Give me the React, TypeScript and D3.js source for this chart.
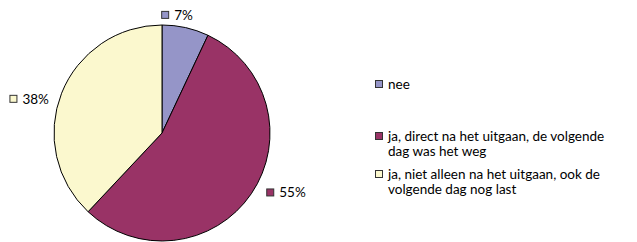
import React from "react";
import * as d3 from "d3";

const categories = ["nee", "ja, direct na het uitgaan, de volgende dag was het weg", "ja, niet alleen na het uitgaan, ook de volgende dag nog last"];
const legendLines = [["nee"], ["ja, direct na het uitgaan, de volgende", "dag was het weg"], ["ja, niet alleen na het uitgaan, ook de", "volgende dag nog last"]];
const values = [7, 55, 38];
const labels = ["7%", "55%", "38%"];
const colors = ["#9595C8", "#993366", "#FBF8CE"];

const W = 637, H = 242;
const cx = 162, cy = 133, R = 108;
const font = "Lato, 'Open Sans', sans-serif";
const fs = 13.5;

// label offsets relative to arc-based anchor (box left x, text baseline y)
const labelOffsets = [
  { dx: -27, dy: 4 },
  { dx: 5, dy: -3 },
  { dx: -41, dy: 15 },
];

export default function App() {
  const pie = d3.pie<number>().sort(null).value((d) => d);
  const arcs = pie(values);
  const arc = d3.arc<d3.PieArcDatum<number>>().innerRadius(0).outerRadius(R);
  const labelArc = d3.arc<d3.PieArcDatum<number>>().innerRadius(R + 12).outerRadius(R + 12);

  const legendY = [89, 141, 179];
  const lineH = 14.5;

  return (
    <svg width={W} height={H} style={{ position: "absolute", left: 0, top: 0 }}>
      <rect width={W} height={H} fill="#fff" />
      <g transform={`translate(${cx},${cy})`}>
        {arcs.map((a, i) => (
          <path key={i} d={arc(a) || ""} fill={colors[i]} stroke="#000" strokeWidth={1} />
        ))}
      </g>
      {arcs.map((a, i) => {
        const [lx, ly] = labelArc.centroid(a);
        const x = cx + lx + labelOffsets[i].dx;
        const y = cy + ly + labelOffsets[i].dy;
        return (
          <g key={i}>
            <rect x={x + 0.5} y={y - 8.5} width={7} height={7} fill={colors[i]} stroke="#333" strokeWidth={1} />
            <text x={x + 13} y={y} fontFamily={font} fontSize={fs} fill="#000">{labels[i]}</text>
          </g>
        );
      })}
      {categories.map((c, i) => (
        <g key={c}>
          <rect x={375.5} y={legendY[i] - 8.5} width={7} height={7} fill={colors[i]} stroke="#333" strokeWidth={1} />
          <text fontFamily={font} fontSize={fs} fill="#000">
            {legendLines[i].map((l, j) => (
              <tspan key={j} x={388} y={legendY[i] + j * lineH}>{l}</tspan>
            ))}
          </text>
        </g>
      ))}
    </svg>
  );
}
